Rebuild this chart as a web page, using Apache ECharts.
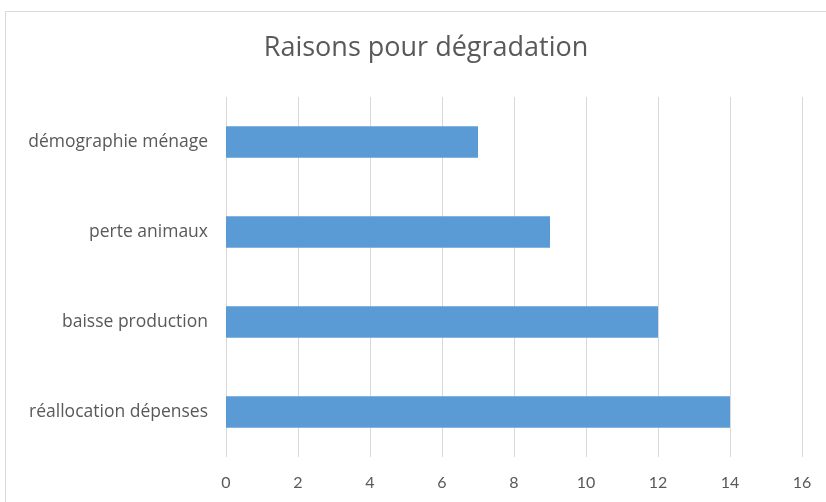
<!DOCTYPE html>
<html lang="fr">
<head>
    <meta charset="UTF-8">
    <title>raisons-degradation</title>
    <script src="https://cdn.jsdelivr.net/npm/echarts@6.0.0/dist/echarts.min.js"></script>
</head>
<body style="margin:0;background:#fff;">
<div id="main" style="width: 826px;height:502px;"></div>
<script>
    // données (de bas en haut)
    var categories = ["réallocation dépenses", "baisse production", "perte animaux", "démographie ménage"];
    var values = [14, 12, 9, 7];
    var xMax = 16;
    var xStep = 2;

    var chart = echarts.init(document.getElementById("main"));
    var option = {
        backgroundColor: '#fff',
        animation: false,
        title: {
            text: 'Raisons pour dégradation',
            left: 421,
            top: 30,
            textAlign: 'center',
            textStyle: {
                fontFamily: 'Open Sans',
                fontWeight: 'normal',
                fontSize: 27,
                color: '#595959'
            }
        },
        graphic: [{
            type: 'rect',
            shape: {x: 5.5, y: 11.5, width: 840, height: 520},
            style: {fill: 'none', stroke: '#d9d9d9', lineWidth: 1},
            silent: true
        }],
        grid: {
            left: 226,
            right: 24,
            top: 97,
            bottom: 45,
            containLabel: false
        },
        xAxis: {
            type: 'value',
            min: 0,
            max: xMax,
            interval: xStep,
            axisLine: {show: false},
            axisTick: {show: false},
            axisLabel: {
                margin: 18,
                fontFamily: 'Lato',
                fontSize: 16,
                color: '#595959'
            },
            splitLine: {
                lineStyle: {color: '#d9d9d9', width: 1}
            }
        },
        yAxis: {
            type: 'category',
            data: categories,
            axisLine: {show: false},
            axisTick: {show: false},
            axisLabel: {
                margin: 18,
                fontFamily: 'Open Sans',
                fontSize: 17.5,
                color: '#595959'
            }
        },
        series: [{
            type: 'bar',
            data: values,
            barWidth: '35%',
            itemStyle: {color: '#5b9bd5'}
        }]
    };
    chart.setOption(option);
</script>
</body>
</html>
